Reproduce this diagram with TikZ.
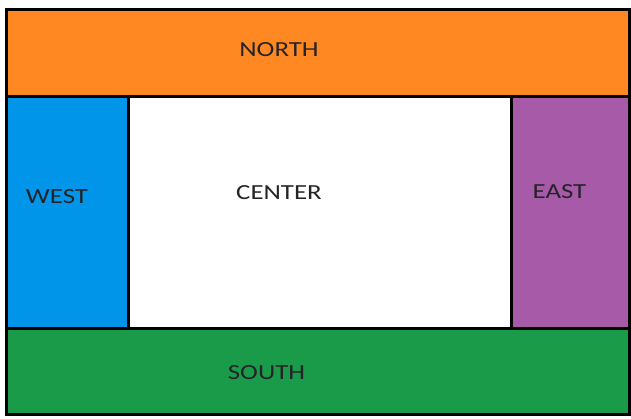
\documentclass[tikz,border=0pt]{standalone}
\usepackage{fontspec}
\setmainfont{Carlito}
\definecolor{northc}{RGB}{255,136,34}
\definecolor{westc}{RGB}{0,149,232}
\definecolor{eastc}{RGB}{167,90,168}
\definecolor{southc}{RGB}{26,155,74}
\definecolor{txt}{RGB}{35,35,40}
\begin{document}
\begin{tikzpicture}[x=1pt,y=-1pt,
  region/.style={draw=black,line width=3pt,inner sep=0pt,outer sep=0pt,anchor=north west},
  lbl/.style={text=txt,font=\fontsize{21.5}{25}\selectfont,inner sep=0pt}]
\useasboundingbox (0,0) rectangle (631,418);
\node[region,fill=northc,minimum width=623pt,minimum height=87pt] (north) at (6.5,9.5) {};
\node[region,fill=westc,minimum width=122pt,minimum height=232pt] (west) at (6.5,96.5) {};
\node[region,fill=white,minimum width=383pt,minimum height=232pt] (center) at (128.5,96.5) {};
\node[region,fill=eastc,minimum width=118pt,minimum height=232pt] (east) at (511.5,96.5) {};
\node[region,fill=southc,minimum width=623pt,minimum height=86pt] (south) at (6.5,328.5) {};
\node[lbl] (ln) at (279,49.5) {\scalebox{1.25}[1]{NORTH}};
\node[lbl] (lw) at (57,196.5) {\scalebox{1.25}[1]{WEST}};
\node[lbl] (lc) at (279,193) {\scalebox{1.25}[1]{CENTER}};
\node[lbl] (le) at (559.5,191.5) {\scalebox{1.25}[1]{EAST}};
\node[lbl] (ls) at (266.5,372.5) {\scalebox{1.25}[1]{SOUTH}};
\end{tikzpicture}
\end{document}
